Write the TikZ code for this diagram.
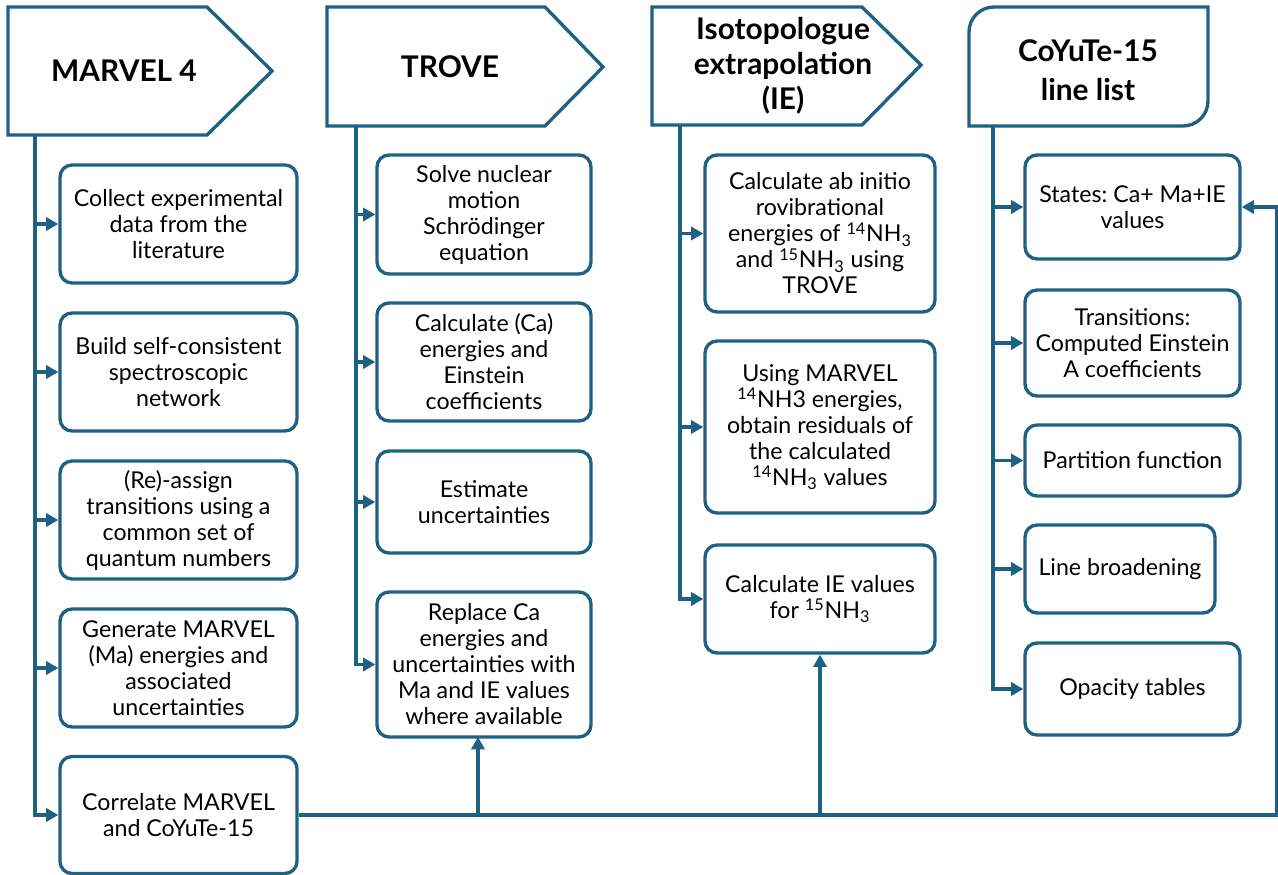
\documentclass[tikz,border=0pt]{standalone}
\usepackage{fontspec}
\setmainfont{Lato}
\usetikzlibrary{arrows.meta}
\definecolor{flowblue}{RGB}{31,97,133}
\frenchspacing

\begin{document}
\begin{tikzpicture}[x=0.02cm, y=-0.02cm,
  hdr/.style={draw=flowblue, line width=1.9pt, fill=white, line join=miter},
  hdrtext/.style={font=\fontsize{17}{20}\selectfont\bfseries, align=center},
  stepbox/.style={draw=flowblue, line width=1.9pt, rounded corners=0.24cm, fill=white,
    align=center, font=\fontsize{13.2}{14.8}\selectfont, inner sep=2pt},
  link/.style={flowblue, line width=2pt},
  arr/.style={link, -{Triangle[length=7pt, width=7.5pt]}}]
  \useasboundingbox (0,0) rectangle (1278,875);

  % Column headers
  \draw[hdr] (8,7) -- (207,7) -- (272,71) -- (207,135) -- (8,135) -- cycle;
  \node[hdrtext] (marvel) at (124,71) {MARVEL 4};
  \draw[hdr] (327,7) -- (545,7) -- (603,67) -- (545,126) -- (327,126) -- cycle;
  \node[hdrtext] (trove) at (450,67) {TROVE};
  \draw[hdr] (652,7) -- (862,7) -- (921,65) -- (862,125) -- (652,125) -- cycle;
  \node[hdrtext] (isoext) at (783,66) {Isotopologue\\extrapolation\\(IE)};
  \draw[hdr] (969,126) [rounded corners=0.5cm] -- (969,7) [sharp corners] -- (1208,7)
    [rounded corners=0.5cm] -- (1208,126) [sharp corners] -- cycle;
  \node[hdrtext, font=\fontsize{17}{22}\selectfont\bfseries] (coyute) at (1088,70) {CoYuTe-15\\line list};

  % MARVEL steps
  \node[stepbox, minimum width=4.74cm, minimum height=2.36cm] (m1) at (178.5,224) {Collect experimental\\data from the\\literature};
  \node[stepbox, minimum width=4.74cm, minimum height=2.36cm] (m2) at (178.5,372) {Build self-consistent\\spectroscopic\\network};
  \node[stepbox, minimum width=4.74cm, minimum height=2.36cm] (m3) at (178.5,520) {(Re)-assign\\transitions using a\\common set of\\quantum numbers};
  \node[stepbox, minimum width=4.74cm, minimum height=2.36cm] (m4) at (178.5,668) {Generate MARVEL\\(Ma) energies and\\associated\\uncertainties};
  \node[stepbox, minimum width=4.74cm, minimum height=2.34cm] (m5) at (178.5,815) {Correlate MARVEL\\and CoYuTe-15};

  % TROVE steps
  \node[stepbox, minimum width=4.28cm, minimum height=2.38cm] (t1) at (484,214.5) {Solve nuclear\\motion\\Schr\"odinger\\equation};
  \node[stepbox, minimum width=4.28cm, minimum height=2.36cm] (t2) at (484,362) {Calculate (Ca)\\energies and\\Einstein\\coefficients};
  \node[stepbox, minimum width=4.28cm, minimum height=2.04cm] (t3) at (484,502) {Estimate\\uncertainties};
  \node[stepbox, minimum width=4.28cm, minimum height=2.9cm] (t4) at (484,664.5) {Replace Ca\\energies and\\uncertainties with\\Ma and IE values\\where available};

  % IE steps
  \node[stepbox, minimum width=4.6cm, minimum height=3.14cm] (i1) at (820,233.5) {Calculate ab initio\\rovibrational\\energies of \textsuperscript{14}NH\textsubscript{3}\\and \textsuperscript{15}NH\textsubscript{3} using\\TROVE};
  \node[stepbox, minimum width=4.6cm, minimum height=3.44cm] (i2) at (820,427) {Using MARVEL\\\textsuperscript{14}NH3 energies,\\obtain residuals of\\the calculated\\\textsuperscript{14}NH\textsubscript{3} values};
  \node[stepbox, minimum width=4.6cm, minimum height=2.16cm] (i3) at (820,599) {Calculate IE values\\for \textsuperscript{15}NH\textsubscript{3}};

  % line list parts
  \node[stepbox, minimum width=4.3cm, minimum height=2.08cm] (c1) at (1132.5,207) {States: Ca+ Ma+IE\\values};
  \node[stepbox, minimum width=4.3cm, minimum height=2.12cm] (c2) at (1132.5,343) {Transitions:\\Computed Einstein\\A coefficients};
  \node[stepbox, minimum width=4.3cm, minimum height=1.42cm] (c3) at (1132.5,460.5) {Partition function};
  \node[stepbox, minimum width=3.8cm, minimum height=1.76cm] (c4) at (1120,569) {Line broadening};
  \node[stepbox, minimum width=4.3cm, minimum height=1.84cm] (c5) at (1132.5,689) {Opacity tables};

  % trunks
  \coordinate (tm) at (35,135);
  \coordinate (tt) at (356,126);
  \coordinate (ti) at (680,125);
  \coordinate (tc) at (993,126);
  \draw[arr] (tm) -- (tm |- m5.west) -- (m5.west);
  \foreach \n in {m1,m2,m3,m4} \draw[arr] (tm |- \n.west) -- (\n.west);
  \draw[arr] (tt) -- (tt |- t4.west) -- (t4.west);
  \foreach \n in {t1,t2,t3} \draw[arr] (tt |- \n.west) -- (\n.west);
  \draw[arr] (ti) -- (ti |- i3.west) -- (i3.west);
  \foreach \n in {i1,i2} \draw[arr] (ti |- \n.west) -- (\n.west);
  \draw[arr] (tc) -- (tc |- c5.west) -- (c5.west);
  \foreach \n in {c1,c2,c3,c4} \draw[arr] (tc |- \n.west) -- (\n.west);

  % feedback from the correlation step
  \coordinate (rt) at (1277,815);
  \draw[arr] (m5.east) -- (rt) -- (rt |- c1.east) -- (c1.east);
  \draw[arr] (478,815) -- (478,737);
  \draw[arr] (m5.east -| i3.south) -- (i3.south);
\end{tikzpicture}
\end{document}
